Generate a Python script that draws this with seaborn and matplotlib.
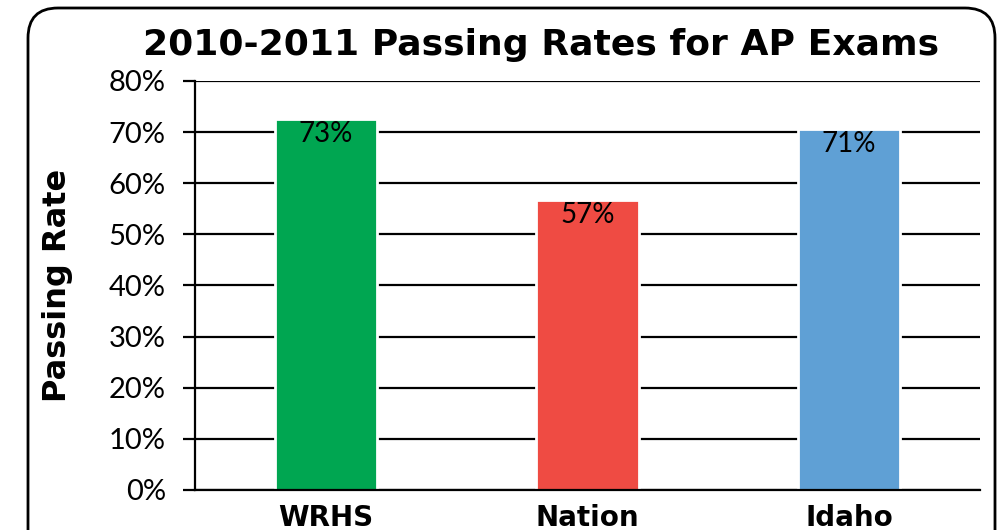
import matplotlib
matplotlib.use("Agg")
import matplotlib.pyplot as plt
import seaborn as sns
import pandas as pd
from matplotlib.patches import FancyBboxPatch
from matplotlib.ticker import PercentFormatter

# data
groups = ["WRHS", "Nation", "Idaho"]
pass_rates = [0.726, 0.567, 0.706]
bar_colors = ["#00A651", "#EF4B43", "#5FA0D5"]
y_ticks = [0.0, 0.1, 0.2, 0.3, 0.4, 0.5, 0.6, 0.7, 0.8]

df = pd.DataFrame({"group": groups, "rate": pass_rates})

sns.set_style("white")
plt.rcParams["font.family"] = ["Lato", "DejaVu Sans"]
plt.rcParams["text.color"] = "black"
plt.rcParams["axes.labelcolor"] = "black"
plt.rcParams["xtick.color"] = "black"
plt.rcParams["ytick.color"] = "black"

fig = plt.figure(figsize=(10, 5.3), dpi=100)
ax = fig.add_axes([0.195, 0.0755, 0.785, 0.7717])

sns.barplot(
    data=df,
    x="group",
    y="rate",
    hue="group",
    palette=bar_colors,
    saturation=1,
    width=0.39,
    edgecolor="white",
    linewidth=2,
    legend=False,
    ax=ax,
    zorder=3,
)

ax.set_ylim(0, 0.8)
ax.set_xlim(-0.5, 2.5)
ax.set_yticks(y_ticks)
ax.yaxis.set_major_formatter(PercentFormatter(1.0, decimals=0))
ax.yaxis.grid(True, color="black", linewidth=1.6, zorder=1)
ax.set_axisbelow(True)

for s in ["top", "right"]:
    ax.spines[s].set_visible(False)
for s in ["left", "bottom"]:
    ax.spines[s].set_color("black")
    ax.spines[s].set_linewidth(1.6)
    ax.spines[s].set_zorder(4)

ax.tick_params(axis="y", direction="out", length=9, width=1.6, color="black",
               labelsize=21, pad=12, left=True)
ax.tick_params(axis="x", length=0, labelsize=20, pad=10)
for lbl in ax.get_xticklabels():
    lbl.set_fontweight("bold")
    lbl.set_family(["DejaVu Sans"])

ax.set_xlabel("")
ax.set_ylabel("Passing Rate", fontsize=23, fontweight="bold",
              family=["DejaVu Sans"], labelpad=26)

for i, v in enumerate(pass_rates):
    ax.text(i, v - 0.004, f"{round(v * 100):d}%", ha="center", va="top",
            fontsize=20, color="black", zorder=5)

fig.text(0.541, 0.915, "2010-2011 Passing Rates for AP Exams", ha="center",
         va="center", fontsize=26, fontweight="bold", family=["DejaVu Sans"])

box = FancyBboxPatch((0.28, -0.5), 9.67, 5.72,
                     boxstyle="round,pad=0,rounding_size=0.3",
                     transform=fig.dpi_scale_trans, fill=False,
                     edgecolor="black", linewidth=2)
fig.patches.append(box)

fig.savefig("out.png", dpi=100)
